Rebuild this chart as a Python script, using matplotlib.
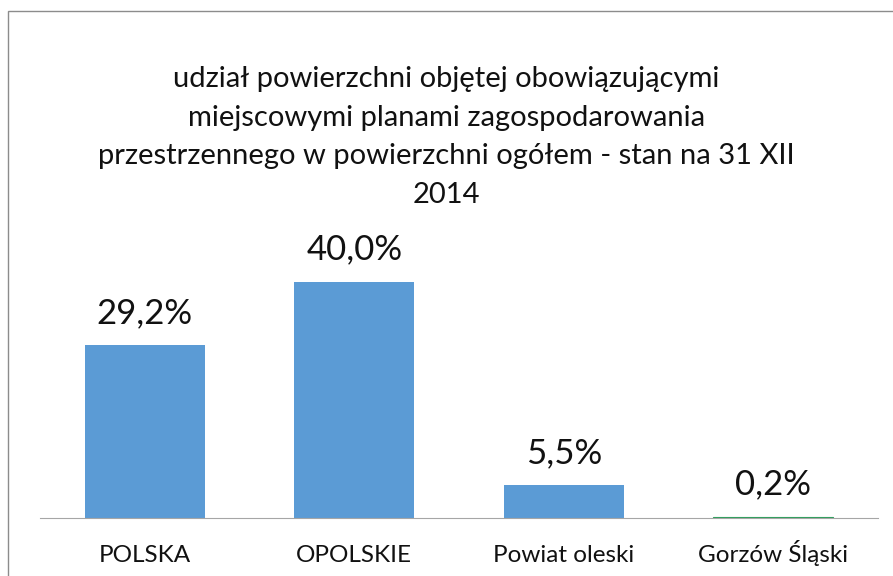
import matplotlib
matplotlib.use('Agg')
from matplotlib import pyplot as plt
from matplotlib.patches import Rectangle

plt.rcParams['font.family'] = ['Lato', 'DejaVu Sans']

categories = ['POLSKA', 'OPOLSKIE', 'Powiat oleski', 'Gorzów Śląski']
values = [29.2, 40.0, 5.5, 0.2]
title = ('udział powierzchni objętej obowiązującymi\n'
         'miejscowymi planami zagospodarowania\n'
         'przestrzennego w powierzchni ogółem - stan na 31 XII\n'
         '2014')

fig = plt.figure(figsize=(8.93, 5.76), dpi=100)
ax = fig.add_axes([0.0448, 1 - 518 / 576, 0.9384, (518 - 252) / 576])

x = range(len(categories))
bars = ax.bar(x, values, width=0.573, color='#5B9BD5')
bars[-1].set_edgecolor('#2E9E5B')
bars[-1].set_linewidth(0.8)
for xi, v in zip(x, values):
    ax.annotate(f'{v:.1f}%'.replace('.', ','), (xi, v), xytext=(0, 16),
                textcoords='offset points', ha='center', va='baseline',
                fontsize=25, color='#111111')

ax.set_xlim(-0.5, len(categories) - 0.5)
ax.set_ylim(0, 45)
ax.set_xticks(list(x))
ax.set_xticklabels(categories, fontsize=17.5, color='#111111')
for lab in ax.get_xticklabels():
    lab.set_verticalalignment('baseline')
ax.tick_params(axis='x', length=0, pad=32)
ax.set_yticks([])
for s in ['top', 'left', 'right']:
    ax.spines[s].set_visible(False)
ax.spines['bottom'].set_color('#a6a6a6')

fig.text(0.5, 1 - 137 / 576, title, ha='center', va='center', fontsize=21,
         linespacing=1.6, color='#111111')

# ramka wykresu
fig.patches.append(Rectangle((8 / 893, -0.1), 1.1, 1.1 - 11 / 576,
                             transform=fig.transFigure, fill=False,
                             edgecolor='#8c8c8c', linewidth=1))

fig.savefig('out.png', dpi=100)
